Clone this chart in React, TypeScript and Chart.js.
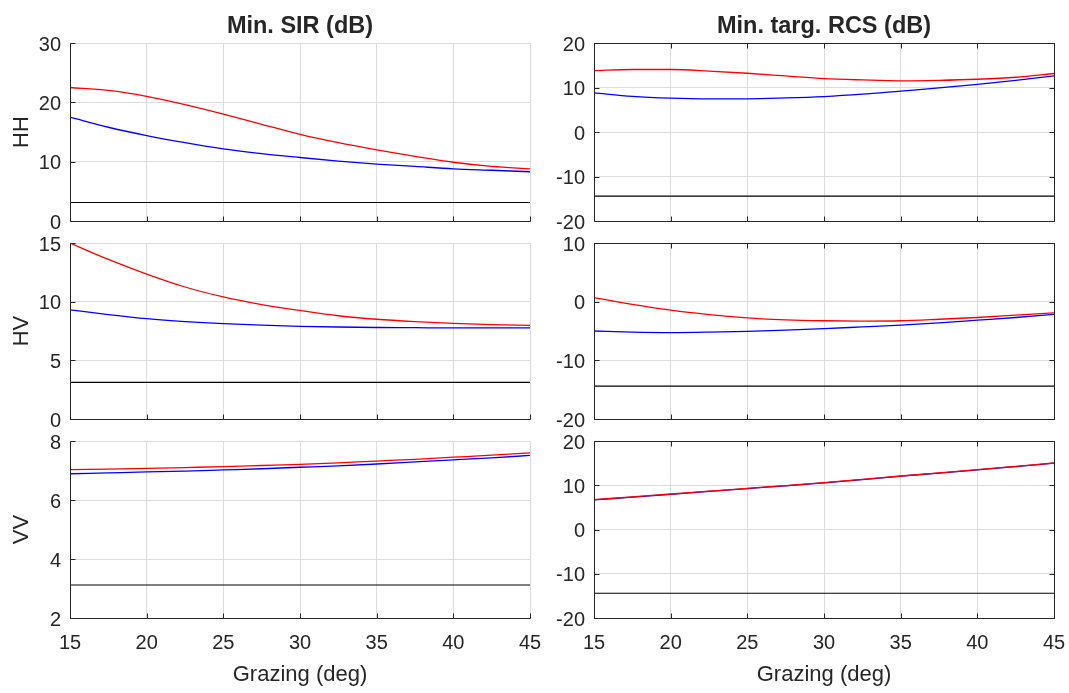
import { useEffect, useRef } from "react";
import { Chart, registerables } from "chart.js";

Chart.register(...registerables);

// Grazing angles (deg) at which the curves are sampled
const grazingDeg = [15, 17.5, 20, 22.5, 25, 27.5, 30, 32.5, 35, 37.5, 40, 42.5, 45];

// Minimum SIR (dB)
const sirHHRed = [22.5, 22.0, 21.0, 19.6, 18.0, 16.3, 14.6, 13.2, 12.0, 10.9, 9.9, 9.2, 8.8];
const sirHHBlue = [17.5, 15.8, 14.4, 13.2, 12.15, 11.35, 10.7, 10.1, 9.6, 9.2, 8.8, 8.55, 8.3];
const sirHVRed = [15.0, 13.6, 12.35, 11.25, 10.4, 9.75, 9.25, 8.8, 8.5, 8.3, 8.15, 8.05, 7.98];
const sirHVBlue = [9.3, 8.9, 8.55, 8.3, 8.12, 8.0, 7.9, 7.84, 7.8, 7.78, 7.76, 7.76, 7.76];
const sirVVRed = [7.03, 7.05, 7.07, 7.1, 7.13, 7.17, 7.21, 7.26, 7.32, 7.38, 7.45, 7.52, 7.6];
const sirVVBlue = [6.89, 6.92, 6.95, 6.98, 7.02, 7.06, 7.11, 7.16, 7.22, 7.29, 7.36, 7.43, 7.51];
const sirThreshold = 3.12;

// Minimum target RCS (dB)
const rcsHHRed = [13.8, 14.05, 14.05, 13.7, 13.2, 12.6, 12.0, 11.7, 11.5, 11.6, 11.85, 12.3, 13.15];
const rcsHHBlue = [8.8, 8.0, 7.6, 7.45, 7.45, 7.65, 7.97, 8.5, 9.2, 9.9, 10.7, 11.6, 12.6];
const rcsHVRed = [0.7, -0.45, -1.45, -2.2, -2.75, -3.1, -3.25, -3.3, -3.25, -3.0, -2.7, -2.3, -1.9];
const rcsHVBlue = [-5.0, -5.2, -5.28, -5.2, -5.05, -4.85, -4.6, -4.3, -4.0, -3.6, -3.15, -2.7, -2.15];
const rcsVVRed = [6.74, 7.37, 8.02, 8.65, 9.3, 9.93, 10.58, 11.32, 12.09, 12.8, 13.52, 14.27, 15.03];
const rcsVVBlue = [6.68, 7.31, 7.96, 8.6, 9.25, 9.88, 10.53, 11.27, 12.04, 12.75, 13.47, 14.22, 14.98];
const rcsThreshold = -14.4;

// Axis ranges and labels
const xRange = [15, 45];
const xStep = 5;
const rowLabels = ["HH", "HV", "VV"];
const columnTitles = ["Min. SIR (dB)", "Min. targ. RCS (dB)"];
const xLabel = "Grazing (deg)";
const sirRanges = [[0, 30, 10], [0, 15, 5], [2, 8, 2]];
const rcsRanges = [[-20, 20, 10], [-20, 10, 10], [-20, 20, 10]];

const FONT = '"Liberation Sans", Arial, Helvetica, sans-serif';
const INK = "#262626";
const GRID = "#dcdcdc";

// Plot-area placement of every subplot (page pixels)
const COLS = [
  { left: 70, right: 530 },
  { left: 594, right: 1054 },
];
const ROWS = [
  { top: 43, bottom: 221 },
  { top: 243, bottom: 419 },
  { top: 441, bottom: 618 },
];

type PanelSpec = {
  col: number;
  row: number;
  red: number[];
  blue: number[];
  threshold: number;
  range: number[];
};

const panels: PanelSpec[] = [
  { col: 0, row: 0, red: sirHHRed, blue: sirHHBlue, threshold: sirThreshold, range: sirRanges[0] },
  { col: 0, row: 1, red: sirHVRed, blue: sirHVBlue, threshold: sirThreshold, range: sirRanges[1] },
  { col: 0, row: 2, red: sirVVRed, blue: sirVVBlue, threshold: sirThreshold, range: sirRanges[2] },
  { col: 1, row: 0, red: rcsHHRed, blue: rcsHHBlue, threshold: rcsThreshold, range: rcsRanges[0] },
  { col: 1, row: 1, red: rcsHVRed, blue: rcsHVBlue, threshold: rcsThreshold, range: rcsRanges[1] },
  { col: 1, row: 2, red: rcsVVRed, blue: rcsVVBlue, threshold: rcsThreshold, range: rcsRanges[2] },
];

const TICK_LEN = 5;

// Draws axis lines, inward tick marks, column title and axis labels
const axesFrame = {
  id: "axesFrame",
  afterDatasetsDraw(chart: any, _args: any, opts: any) {
    const { ctx, chartArea } = chart;
    const xs = chart.scales.x;
    const ys = chart.scales.y;
    const al = (v: number) => Math.round(v) + 0.5;
    const L = al(chartArea.left);
    const R = al(chartArea.right);
    const T = al(chartArea.top);
    const B = al(chartArea.bottom);
    ctx.save();
    ctx.strokeStyle = INK;
    ctx.lineWidth = 1;
    ctx.beginPath();
    ctx.moveTo(L, T);
    ctx.lineTo(L, B);
    ctx.lineTo(R, B);
    if (opts.box) {
      ctx.lineTo(R, T);
      ctx.lineTo(L, T);
    }
    xs.ticks.forEach((t: any) => {
      const px = al(xs.getPixelForValue(t.value));
      ctx.moveTo(px, B);
      ctx.lineTo(px, B - TICK_LEN);
      if (opts.box) {
        ctx.moveTo(px, T);
        ctx.lineTo(px, T + TICK_LEN);
      }
    });
    ys.ticks.forEach((t: any) => {
      const py = al(ys.getPixelForValue(t.value));
      ctx.moveTo(L, py);
      ctx.lineTo(L + TICK_LEN, py);
      if (opts.box) {
        ctx.moveTo(R, py);
        ctx.lineTo(R - TICK_LEN, py);
      }
    });
    ctx.stroke();

    ctx.fillStyle = INK;
    const cx = (chartArea.left + chartArea.right) / 2;
    if (opts.title) {
      ctx.font = `bold 23.5px ${FONT}`;
      ctx.textAlign = "center";
      ctx.textBaseline = "alphabetic";
      ctx.fillText(opts.title, cx, chartArea.top - 10.5);
    }
    if (opts.xLabel) {
      ctx.font = `22px ${FONT}`;
      ctx.textAlign = "center";
      ctx.textBaseline = "alphabetic";
      ctx.fillText(opts.xLabel, cx, chartArea.bottom + 63);
    }
    if (opts.yLabel) {
      ctx.font = `22px ${FONT}`;
      ctx.textAlign = "center";
      ctx.textBaseline = "alphabetic";
      ctx.translate(chartArea.left - 42, (chartArea.top + chartArea.bottom) / 2);
      ctx.rotate(-Math.PI / 2);
      ctx.fillText(opts.yLabel, 0, 0);
    }
    ctx.restore();
  },
};

function Panel({ spec }: { spec: PanelSpec }) {
  const ref = useRef<HTMLCanvasElement | null>(null);
  const col = COLS[spec.col];
  const row = ROWS[spec.row];
  const isBottom = spec.row === ROWS.length - 1;
  const leftSpace = spec.col === 0 ? 70 : 54;
  const rightSpace = 15;
  const topSpace = spec.row === 0 ? row.top : 20;
  const bottomSpace = isBottom ? 693 - row.bottom : 18;
  const width = leftSpace + (col.right - col.left) + rightSpace;
  const height = topSpace + (row.bottom - row.top) + bottomSpace;
  const canvasLeft = col.left - leftSpace;
  const canvasTop = row.top - topSpace;

  useEffect(() => {
    if (!ref.current) return;
    const pts = (vals: number[]) => grazingDeg.map((g, i) => ({ x: g, y: vals[i] }));
    const [yMin, yMax, yStep] = spec.range;
    const chart = new Chart(ref.current, {
      type: "line",
      data: {
        datasets: [
          {
            data: pts(spec.red),
            borderColor: "#ff0000",
            borderWidth: 1.3,
            pointRadius: 0,
            cubicInterpolationMode: "monotone",
            order: 0,
          },
          {
            data: pts(spec.blue),
            borderColor: "#0000ff",
            borderWidth: 1.3,
            pointRadius: 0,
            cubicInterpolationMode: "monotone",
            order: 1,
          },
          {
            data: [
              { x: xRange[0], y: spec.threshold },
              { x: xRange[1], y: spec.threshold },
            ],
            borderColor: "#000000",
            borderWidth: 1.1,
            pointRadius: 0,
            order: 2,
          },
        ],
      },
      options: {
        responsive: false,
        animation: false,
        events: [],
        layout: { padding: { left: 0, top: topSpace, right: rightSpace, bottom: 0 } },
        plugins: {
          legend: { display: false },
          tooltip: { enabled: false },
          axesFrame: {
            box: spec.col === 1,
            title: spec.row === 0 ? columnTitles[spec.col] : null,
            yLabel: spec.col === 0 ? rowLabels[spec.row] : null,
            xLabel: isBottom ? xLabel : null,
          },
        } as any,
        scales: {
          x: {
            type: "linear",
            min: xRange[0],
            max: xRange[1],
            afterFit: (s: any) => {
              s.height = bottomSpace;
              s.paddingLeft = 0;
              s.paddingRight = 0;
            },
            ticks: {
              display: isBottom,
              stepSize: xStep,
              autoSkip: false,
              maxRotation: 0,
              padding: 13,
              color: INK,
              font: { family: FONT, size: 20 },
            },
            grid: { color: GRID, lineWidth: 1, drawTicks: false },
            border: { display: false },
          },
          y: {
            type: "linear",
            min: yMin,
            max: yMax,
            afterFit: (s: any) => {
              s.width = leftSpace;
              s.paddingTop = 0;
              s.paddingBottom = 0;
            },
            ticks: {
              stepSize: yStep,
              padding: 9,
              labelOffset: 2,
              color: INK,
              font: { family: FONT, size: 20 },
            },
            grid: { color: GRID, lineWidth: 1, drawTicks: false },
            border: { display: false },
          },
        },
      },
      plugins: [axesFrame],
    });
    return () => chart.destroy();
  }, []);

  return (
    <canvas
      ref={ref}
      width={width}
      height={height}
      style={{ position: "absolute", left: canvasLeft, top: canvasTop, width, height }}
    />
  );
}

export default function App() {
  return (
    <div
      style={{
        position: "absolute",
        left: 0,
        top: 0,
        width: 1069,
        height: 693,
        background: "#ffffff",
        overflow: "hidden",
      }}
    >
      {panels.map((p) => (
        <Panel key={`${p.col}-${p.row}`} spec={p} />
      ))}
    </div>
  );
}
